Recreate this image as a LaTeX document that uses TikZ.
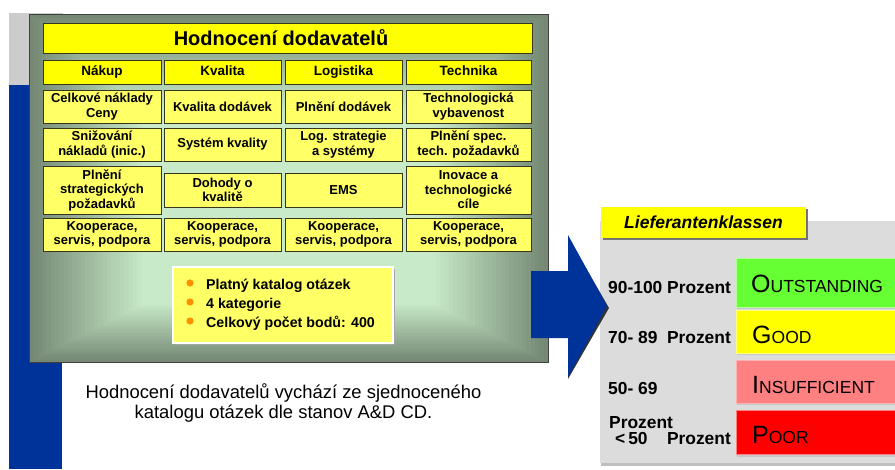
\documentclass[tikz,border=0pt]{standalone}
\usepackage{fontspec}
\setmainfont{Liberation Sans}
\definecolor{bluebar}{RGB}{0,51,153}
\definecolor{lgray}{RGB}{204,204,204}
\definecolor{panelout}{RGB}{116,136,116}
\definecolor{panelin}{RGB}{200,234,200}
\definecolor{ybright}{RGB}{255,255,0}
\definecolor{ylight}{RGB}{255,255,102}
\definecolor{celledge}{RGB}{55,55,30}
\definecolor{rgray}{RGB}{220,220,220}
\definecolor{cgreen}{RGB}{102,255,51}
\definecolor{cpink}{RGB}{255,128,128}
\definecolor{cred}{RGB}{255,0,0}
\definecolor{borange}{RGB}{255,145,0}
\newcommand\myfs[2]{\fontsize{#1}{#2}\selectfont}
\tikzset{
  cellbox/.style={draw=celledge, line width=0.9pt, fill=ylight, inner sep=0pt,
    align=center, font=\myfs{13}{14.5}\bfseries, minimum height=33pt},
  hcell/.style={cellbox, fill=ybright, minimum height=24pt, font=\myfs{13.5}{15}\bfseries,
    text height=10pt, text depth=3pt},
  lab/.style={anchor=base west, inner sep=0pt, font=\myfs{17.4}{19}\bfseries},
  labr/.style={anchor=base east, inner sep=0pt, font=\myfs{17.4}{19}\bfseries},
  cls/.style={anchor=base west, inner sep=0pt},
  bul/.style={anchor=base west, inner sep=0pt, font=\myfs{14.2}{16}\bfseries},
  btext/.style={anchor=base, inner sep=0pt, font=\myfs{18.4}{20}},
}
\newcommand\bigsc[2]{{\myfs{25}{25}#1}{\myfs{17.5}{18}#2}}
\begin{document}
\begin{tikzpicture}[x=1pt,y=-1pt]
\useasboundingbox (0,0) rectangle (895,469);
\fill[white] (0,0) rectangle (895,469);
% left decorations
\fill[lgray] (9,13) rectangle (63,85);
\fill[bluebar] (9,85) rectangle (62,469);
% panel with rectangular gradient
\foreach \i in {0,...,36}{
  \pgfmathsetmacro\f{\i/60}
  \pgfmathtruncatemacro\p{min(100,\i*100/26)}
  \pgfmathsetmacro\xa{29+\f*260}
  \pgfmathsetmacro\ya{14+\f*216}
  \pgfmathsetmacro\xb{548-\f*259}
  \pgfmathsetmacro\yb{362-\f*132}
  \fill[panelin!\p!panelout] (\xa,\ya) rectangle (\xb,\yb);
}
\draw[black!75, line width=1pt] (29,14) rectangle (548,362);
% title
\node[cellbox, fill=ybright, minimum width=489pt, minimum height=30pt] (title) at (287.5,38) {};
\node[inner sep=0pt, font=\myfs{20}{22}\bfseries] (titletext) at (281,38) {Hodnocení dodavatelů};
% headers
\node[hcell, minimum width=118pt] (h1) at (102,72) {Nákup};
\node[hcell, minimum width=117pt] (h2) at (222.5,72) {Kvalita};
\node[hcell, minimum width=117pt] (h3) at (343.5,72) {Logistika};
\node[hcell, minimum width=125pt] (h4) at (468.5,72) {Technika};
% row 1
\node[cellbox, minimum width=118pt] (a1) at (102,106.5) {Celkové náklady\\Ceny};
\node[cellbox, minimum width=117pt] (a2) at (222.5,106.5) {Kvalita dodávek};
\node[cellbox, minimum width=117pt] (a3) at (343.5,106.5) {Plnění dodávek};
\node[cellbox, minimum width=125pt] (a4) at (468.5,106.5) {Technologická\\vybavenost};
% row 2
\node[cellbox, minimum width=118pt] (b1) at (102,144.5) {Snižování\\nákladů (inic.)};
\node[cellbox, minimum width=117pt] (b2) at (222.5,144.5) {Systém kvality};
\node[cellbox, minimum width=117pt] (b3) at (343.5,144.5) {Log. strategie\\a systémy};
\node[cellbox, minimum width=125pt] (b4) at (468.5,144.5) {Plnění spec.\\tech. požadavků};
% row 3
\node[cellbox, minimum width=118pt, minimum height=48pt] (c1) at (102,190) {Plnění\\strategických\\požadavků};
\node[cellbox, minimum width=117pt, minimum height=34pt] (c2) at (222.5,190) {Dohody o\\kvalitě};
\node[cellbox, minimum width=117pt, minimum height=34pt] (c3) at (343.5,190) {EMS};
\node[cellbox, minimum width=125pt, minimum height=48pt] (c4) at (468.5,190) {Inovace a\\technologické\\cíle};
% row 4
\node[cellbox, minimum width=118pt] (d1) at (102,234.5) {Kooperace,\\servis, podpora};
\node[cellbox, minimum width=117pt] (d2) at (222.5,234.5) {Kooperace,\\servis, podpora};
\node[cellbox, minimum width=117pt] (d3) at (343.5,234.5) {Kooperace,\\servis, podpora};
\node[cellbox, minimum width=125pt] (d4) at (468.5,234.5) {Kooperace,\\servis, podpora};
% bullet box
\fill[black!35] (175,269) rectangle (395,345);
\draw[white, line width=1.3pt, fill=ylight] (173,267) rectangle (393,343);
\foreach \yy in {283,302,321}{
  \fill[borange] (190,\yy) circle (3.6pt);
}
\node[bul] (t1) at (206,289.5) {Platný katalog otázek};
\node[bul] (t2) at (206,308.5) {4 kategorie};
\node[bul] (t3) at (206,327.5) {Celkový počet bodů: 400};
% bottom text
\node[btext] (bt1) at (283.5,398) {Hodnocení dodavatelů vychází ze sjednoceného};
\node[btext] (bt2) at (283.5,418) {katalogu otázek dle stanov A\&D CD.};
% right gray panel
\fill[black!25] (601,463) rectangle (895,465.5);
\fill[rgray] (600,221) rectangle (895,463);
% Lieferantenklassen header
\fill[black!55] (603,209) rectangle (808,240);
\node[fill=ybright, minimum width=205pt, minimum height=31pt, inner sep=0pt,
  font=\myfs{17.5}{19}\bfseries\itshape] (lk) at (703.5,222.5) {Lieferantenklassen};
% class boxes
\fill[black!22] (737,259) rectangle (895,309);
\fill[black!22] (737,311) rectangle (895,355);
\fill[black!22] (737,361) rectangle (895,405);
\fill[black!22] (737,411) rectangle (895,456.5);
\draw[white!50!cgreen, line width=0.8pt, fill=cgreen] (736,258) rectangle (897,307);
\draw[white!50!ybright, line width=0.8pt, fill=ybright] (736,310) rectangle (897,353);
\draw[white!40!cpink, line width=0.8pt, fill=cpink] (736,360) rectangle (897,403);
\draw[white!50!cred, line width=0.8pt, fill=cred] (736,410) rectangle (897,454);
\node[cls] (o) at (751,292) {\bigsc{O}{UTSTANDING}};
\node[cls] (g) at (752,343) {\bigsc{G}{OOD}};
\node[cls] (i) at (752,393) {\bigsc{I}{NSUFFICIENT}};
\node[cls] (po) at (752,443) {\bigsc{P}{OOR}};
% range labels
\node[lab] (l1) at (608,293) {90-100 Prozent};
\node[lab] (l2) at (608,343) {70- 89};
\node[labr] (l2p) at (731,343) {Prozent};
\node[lab] (l3) at (608,394) {50- 69};
\node[lab] (l4a) at (609,428) {Prozent};
\node[lab] (l4) at (615,444) {<\,50};
\node[labr] (l4p) at (731,444) {Prozent};
% arrow
\fill[black!80] (568,237) -- (609,308) -- (568,379) -- cycle;
\fill[bluebar] (531,271) -- (568,271) -- (568,235) -- (607,306) -- (568,377) -- (568,338) -- (531,338) -- cycle;
\end{tikzpicture}
\end{document}
